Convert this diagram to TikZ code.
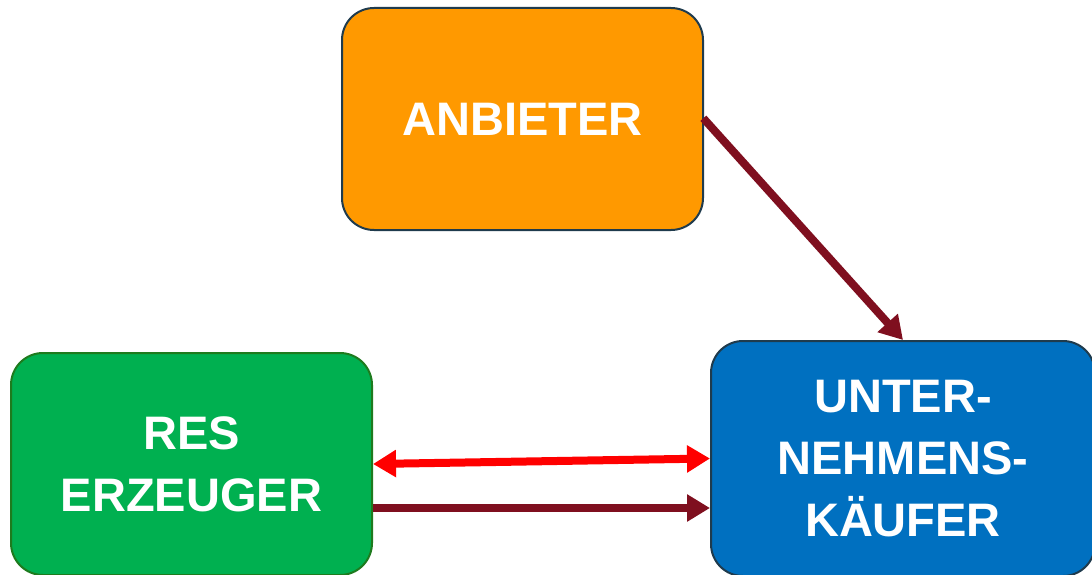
\documentclass[tikz,border=0pt]{standalone}
\usepackage{fontspec}
\setmainfont{Liberation Sans}
\usetikzlibrary{arrows.meta}
\definecolor{cOrange}{HTML}{FF9900}
\definecolor{cGreen}{HTML}{00B050}
\definecolor{cBlue}{HTML}{0070C0}
\definecolor{cDarkRed}{HTML}{7F0F1F}
\definecolor{cRed}{HTML}{FF0000}
\definecolor{cEdge}{HTML}{1F3B4D}
\definecolor{cGreenEdge}{HTML}{1E7B1E}
\tikzset{
  box/.style={rounded corners=32pt, line width=2pt, inner sep=0pt, align=center,
    text=white, font=\fontsize{47}{62}\selectfont\bfseries},
  darrow/.style={line width=8pt, color=cDarkRed, -{Triangle[length=23pt,width=26pt]}},
  rarrow/.style={line width=8pt, color=cRed, {Triangle[length=23pt,width=26pt]}-{Triangle[length=23pt,width=26pt]}},
}
\begin{document}
\begin{tikzpicture}[x=1pt,y=-1pt]
\useasboundingbox (0,0) rectangle (1092,575);
\node[box, draw=cEdge, fill=cOrange, minimum width=361pt, minimum height=222pt] (anb) at (522.5,119) {ANBIETER};
\node[box, draw=cGreenEdge, fill=cGreen, minimum width=361pt, minimum height=222pt] (res) at (191.5,464) {RES\\ERZEUGER};
\node[box, draw=cEdge, fill=cBlue, minimum width=384pt, minimum height=235pt] (kae) at (903,458.5) {UNTER-\\NEHMENS-\\KÄUFER};
\draw[darrow, shorten <=-1pt] (anb.east) -- (kae.north);
\draw[rarrow] (res.east) -- (kae.west);
\draw[darrow] ([yshift=-44pt]res.east) -- ([yshift=-44pt]res.east -| kae.west);
\end{tikzpicture}
\end{document}
